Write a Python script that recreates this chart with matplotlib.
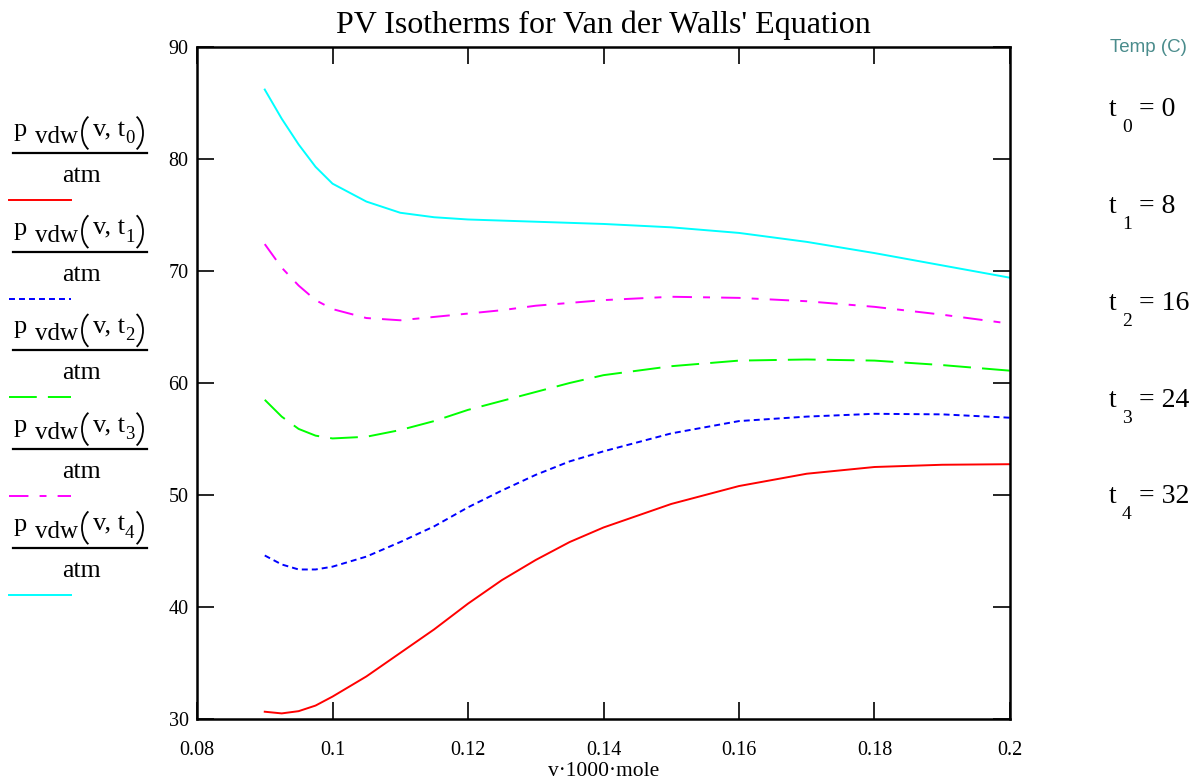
import matplotlib
matplotlib.use("Agg")
import matplotlib.pyplot as plt
from matplotlib.patches import Arc

plt.rcParams['font.family'] = ['Liberation Serif', 'DejaVu Serif']
plt.rcParams['lines.scale_dashes'] = False

# ---- data ----
v = [0.09, 0.0925, 0.095, 0.0975, 0.1, 0.105, 0.11, 0.115, 0.12, 0.125,
     0.13, 0.135, 0.14, 0.15, 0.16, 0.17, 0.18, 0.19, 0.2]
p_t0 = [30.65, 30.5, 30.7, 31.2, 32.0, 33.8, 35.9, 38.0, 40.3, 42.4,
        44.2, 45.8, 47.1, 49.2, 50.8, 51.9, 52.5, 52.7, 52.75]
p_t1 = [44.6, 43.8, 43.35, 43.35, 43.6, 44.5, 45.8, 47.2, 48.9, 50.4,
        51.8, 53.0, 53.9, 55.5, 56.6, 57.0, 57.25, 57.2, 56.9]
p_t2 = [58.5, 57.0, 55.9, 55.3, 55.05, 55.2, 55.8, 56.6, 57.6, 58.4,
        59.2, 60.0, 60.7, 61.5, 62.0, 62.1, 62.0, 61.6, 61.1]
p_t3 = [72.4, 70.3, 68.7, 67.4, 66.6, 65.8, 65.6, 65.9, 66.2, 66.5,
        66.9, 67.15, 67.4, 67.7, 67.6, 67.3, 66.8, 66.1, 65.3]
p_t4 = [86.2, 83.6, 81.3, 79.3, 77.8, 76.2, 75.2, 74.8, 74.6, 74.5,
        74.4, 74.3, 74.2, 73.9, 73.4, 72.6, 71.6, 70.5, 69.4]
temps = [0, 8, 16, 24, 32]
series = [p_t0, p_t1, p_t2, p_t3, p_t4]
colors = ['#ff0000', '#0000ff', '#00ff00', '#ff00ff', '#00ffff']
styles = ['-', (0, (4.3, 2.9)), (0, (20, 8)), (0, (14, 8, 5, 8)), '-']
xticks = [0.08, 0.1, 0.12, 0.14, 0.16, 0.18, 0.2]
xticklabels = ['0.08', '0.1', '0.12', '0.14', '0.16', '0.18', '0.2']
yticks = [30, 40, 50, 60, 70, 80, 90]

W, H = 1199, 783
fig = plt.figure(figsize=(W / 100, H / 100), dpi=100)
ax = fig.add_axes([197 / W, 1 - 719 / H, (1010 - 197) / W, (719 - 47) / H])

for s, c, ls in zip(series, colors, styles):
    ax.plot(v, s, color=c, linestyle=ls, linewidth=1.4)

ax.set_xlim(0.08, 0.2)
ax.set_ylim(30, 90)
ax.set_xticks(xticks)
ax.set_xticklabels(xticklabels)
ax.set_yticks(yticks)
ax.tick_params(direction='in', length=12, width=1.2, top=True, right=True,
               labelsize=14.5)
ax.tick_params(axis='y', pad=6)
ax.tick_params(axis='x', pad=16)
for sp in ax.spines.values():
    sp.set_linewidth(1.8)

ax.set_xlabel('v·1000·mole', fontsize=15.5, labelpad=1)
ax.set_title("PV Isotherms for Van der Walls' Equation", fontsize=23, pad=10)


def fx(px):
    return px / W


def fy(py):
    return 1 - py / H


def put(px, py, s, size, **kw):
    fig.text(fx(px), fy(py), s, fontsize=size, ha='left', va='baseline', **kw)


def paren(x_edge, yc, left=True):
    # thin stretched parenthesis drawn as an elliptical arc (inch coords)
    rx, ry = 13, 19
    if left:
        cx, t1, t2 = x_edge + rx, 112, 248
    else:
        cx, t1, t2 = x_edge - rx, -68, 68
    fig.add_artist(Arc((cx / 100, (H - yc) / 100), 2 * rx / 100, 2 * ry / 100,
                       theta1=t1, theta2=t2, linewidth=1.3, color='black',
                       transform=fig.dpi_scale_trans))


# left legend: fraction labels with line samples
for i, (c, ls) in enumerate(zip(colors, styles)):
    bar = 153 + i * 98.7
    put(14, bar - 17, 'p', 19)
    put(35, bar - 10, 'vdw', 18)
    paren(82, bar - 20, left=True)
    put(93, bar - 17, 'v, t', 19)
    put(125, bar - 10, str(i), 13.5)
    paren(143, bar - 20, left=False)
    fig.add_artist(plt.Line2D([fx(13), fx(147)], [fy(bar), fy(bar)],
                              color='black', linewidth=1.6, transform=fig.transFigure))
    fig.text(fx(81), fy(bar + 29), 'atm', fontsize=18.5, ha='center', va='baseline')
    fig.add_artist(plt.Line2D([fx(9), fx(71)], [fy(bar + 47), fy(bar + 47)],
                              color=c, linestyle=ls, linewidth=1.4,
                              transform=fig.transFigure))

# right side: temperatures
fig.text(fx(1110), fy(47), 'Temp (C)', fontsize=13.5, color='#4a8c8c',
         family='Liberation Sans', ha='left', va='center')
for i, t in enumerate(temps):
    yc = 110 + i * 96.7
    fig.text(fx(1109), fy(yc), 't', fontsize=20, ha='left', va='center')
    fig.text(fx(1122), fy(yc + 18), str(i), fontsize=14, ha='left', va='center')
    fig.text(fx(1139), fy(yc), '= %d' % t, fontsize=20, ha='left', va='center')

fig.savefig('out.png', dpi=100)
